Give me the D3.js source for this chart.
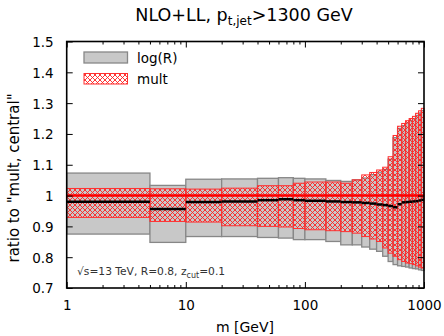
<!DOCTYPE html>
<html>
<head>
<meta charset="utf-8">
<script src="https://cdn.jsdelivr.net/npm/d3@7"></script>
<style>
  body { margin: 0; background: #fff; }
  svg { display: block; font-family: "DejaVu Sans", sans-serif; }
</style>
</head>
<body>
<svg id="chart" width="444" height="336"></svg>
<script>
// bin edges in m [GeV]
const binEdges = [1, 5, 10, 20, 40, 60, 80, 100, 150, 200, 250, 300, 350, 400, 450, 500,
    550, 600, 650, 700, 750, 800, 850, 900, 950, 1000];

// log(R) band
const logRHigh = [1.073, 1.033, 1.053, 1.054, 1.056, 1.058, 1.056, 1.054, 1.049, 1.046, 1.051, 1.057, 1.068,
    1.076, 1.085, 1.118, 1.188, 1.218, 1.227, 1.236, 1.243, 1.250, 1.260, 1.268, 1.276];
const logRLow = [0.875, 0.848, 0.867, 0.867, 0.864, 0.862, 0.857, 0.857, 0.851, 0.840, 0.840, 0.833, 0.826,
    0.819, 0.803, 0.786, 0.776, 0.772, 0.770, 0.768, 0.765, 0.763, 0.762, 0.759, 0.757];

// mult band
const multHigh = [1.023, 1.022, 1.021, 1.024, 1.032, 1.032, 1.040, 1.044, 1.044, 1.040, 1.051, 1.067, 1.075,
    1.083, 1.092, 1.126, 1.195, 1.225, 1.234, 1.243, 1.250, 1.257, 1.267, 1.275, 1.283];
const multLow = [0.929, 0.916, 0.914, 0.902, 0.900, 0.898, 0.893, 0.889, 0.886, 0.883, 0.878, 0.867, 0.859,
    0.851, 0.830, 0.813, 0.803, 0.792, 0.786, 0.781, 0.779, 0.776, 0.772, 0.768, 0.765];

// log(R) central
const central = [0.980, 0.956, 0.979, 0.981, 0.985, 0.988, 0.985, 0.983, 0.981, 0.979, 0.978, 0.976, 0.974,
    0.971, 0.969, 0.966, 0.962, 0.972, 0.978, 0.979, 0.980, 0.981, 0.982, 0.984, 0.986];

const xTicks = [1, 10, 100, 1000];
const yTicks = [0.7, 0.8, 0.9, 1.0, 1.1, 1.2, 1.3, 1.4, 1.5];

const svg = d3.select('#chart');
const pLeft = 66.7, pRight = 424, pTop = 41.5, pBottom = 288;

const x = d3.scaleLog().domain([1, 1000]).range([pLeft, pRight]);
const y = d3.scaleLinear().domain([0.7, 1.5]).range([pBottom, pTop]);

const bins = binEdges.slice(0, -1).map((lo, i) => ({
    lo: lo, hi: binEdges[i + 1],
    gH: logRHigh[i], gL: logRLow[i],
    rH: multHigh[i], rL: multLow[i],
    c: central[i]
}));

// hatch pattern
const defs = svg.append('defs');
const pat = defs.append('pattern')
    .attr('id', 'hatch')
    .attr('patternUnits', 'userSpaceOnUse')
    .attr('width', 5).attr('height', 5);
pat.append('path')
    .attr('d', 'M0,0L5,5M5,0L0,5M-1,4L1,6M4,-1L6,1M-1,1L1,-1M4,6L6,4')
    .attr('stroke', '#ff2020')
    .attr('stroke-width', 0.9)
    .attr('fill', 'none');

const plot = svg.append('g');

// gray boxes
plot.selectAll('rect.logr')
    .data(bins)
    .join('rect')
    .attr('class', 'logr')
    .attr('x', d => x(d.lo))
    .attr('width', d => x(d.hi) - x(d.lo))
    .attr('y', d => y(d.gH))
    .attr('height', d => y(d.gL) - y(d.gH))
    .attr('fill', '#c8c8c8')
    .attr('stroke', '#878787')
    .attr('stroke-width', 1.3);

// mult hatched boxes
plot.selectAll('rect.mult')
    .data(bins)
    .join('rect')
    .attr('class', 'mult')
    .attr('x', d => x(d.lo))
    .attr('width', d => x(d.hi) - x(d.lo))
    .attr('y', d => y(d.rH))
    .attr('height', d => y(d.rL) - y(d.rH))
    .attr('fill', 'url(#hatch)')
    .attr('stroke', '#ff3030')
    .attr('stroke-width', 1);

// mult central = 1
plot.append('line')
    .attr('x1', x(1)).attr('x2', x(1000))
    .attr('y1', y(1)).attr('y2', y(1))
    .attr('stroke', '#ff0000')
    .attr('stroke-width', 2.5);

// log(R) central, one segment per bin
plot.selectAll('line.cen')
    .data(bins)
    .join('line')
    .attr('class', 'cen')
    .attr('x1', d => x(d.lo)).attr('x2', d => x(d.hi))
    .attr('y1', d => y(d.c)).attr('y2', d => y(d.c))
    .attr('stroke', '#000')
    .attr('stroke-width', 2.5);

// axes
const minors = [];
[1, 10, 100].forEach(dec => {
    for (let k = 2; k < 10; k++) minors.push(dec * k);
});

const fontSize = '13.5px';

svg.append('g')
    .attr('transform', `translate(0,${pBottom})`)
    .call(d3.axisBottom(x).tickValues(xTicks).tickSize(-6).tickPadding(12).tickFormat(d3.format('d')));
svg.append('g')
    .attr('transform', `translate(0,${pBottom})`)
    .call(d3.axisBottom(x).tickValues(minors).tickSize(-3).tickFormat(''));
svg.append('g')
    .attr('transform', `translate(0,${pTop})`)
    .call(d3.axisTop(x).tickValues(xTicks).tickSize(-6).tickFormat(''));
svg.append('g')
    .attr('transform', `translate(0,${pTop})`)
    .call(d3.axisTop(x).tickValues(minors).tickSize(-3).tickFormat(''));

const yAxis = svg.append('g')
    .attr('transform', `translate(${pLeft},0)`)
    .call(d3.axisLeft(y).tickValues(yTicks).tickSize(-6).tickPadding(13).tickFormat(d => String(+d.toFixed(1))));
svg.append('g')
    .attr('transform', `translate(${pRight},0)`)
    .call(d3.axisRight(y).tickValues(yTicks).tickSize(-6).tickFormat(''));

svg.selectAll('.domain').remove();
svg.selectAll('.tick line').attr('stroke', '#000').attr('stroke-width', 1);
svg.selectAll('.tick text')
    .attr('font-family', '"DejaVu Sans", sans-serif')
    .attr('font-size', fontSize)
    .attr('fill', '#000');
yAxis.selectAll('.tick text').attr('dy', '0.36em');

// frame
svg.append('rect')
    .attr('x', pLeft).attr('y', pTop)
    .attr('width', pRight - pLeft).attr('height', pBottom - pTop)
    .attr('fill', 'none')
    .attr('stroke', '#000')
    .attr('stroke-width', 1.6);

// legend
const leg = svg.append('g');
leg.append('rect')
    .attr('x', 84).attr('y', 52).attr('width', 43.5).attr('height', 11)
    .attr('fill', '#c8c8c8').attr('stroke', '#878787').attr('stroke-width', 1.3);
leg.append('rect')
    .attr('x', 84).attr('y', 73.5).attr('width', 43.5).attr('height', 10.5)
    .attr('fill', 'url(#hatch)').attr('stroke', '#ff3030').attr('stroke-width', 1);
leg.append('text').attr('x', 137).attr('y', 62.5).attr('font-size', fontSize).text('log(R)');
leg.append('text').attr('x', 137).attr('y', 83.5).attr('font-size', fontSize).text('mult');

// title
const title = svg.append('text')
    .attr('x', 244).attr('y', 21)
    .attr('text-anchor', 'middle')
    .attr('font-size', '17.5px');
title.append('tspan').text('NLO+LL, p');
title.append('tspan').attr('font-size', '12px').attr('dy', 4).text('t,jet');
title.append('tspan').attr('dy', -4).text('>1300 GeV');

// annotation
const note = svg.append('text')
    .attr('x', 77).attr('y', 275)
    .attr('font-size', '10.7px')
    .attr('fill', '#333');
note.append('tspan').text('√s=13 TeV, R=0.8, z');
note.append('tspan').attr('font-size', '8px').attr('dy', 3).text('cut');
note.append('tspan').attr('dy', -3).text('=0.1');

// axis labels
svg.append('text')
    .attr('x', 245).attr('y', 332)
    .attr('text-anchor', 'middle')
    .attr('font-size', '14px')
    .text('m [GeV]');
svg.append('text')
    .attr('transform', 'translate(19,178) rotate(-90)')
    .attr('text-anchor', 'middle')
    .attr('font-size', '15px')
    .text('ratio to "mult, central"');
</script>
</body>
</html>
